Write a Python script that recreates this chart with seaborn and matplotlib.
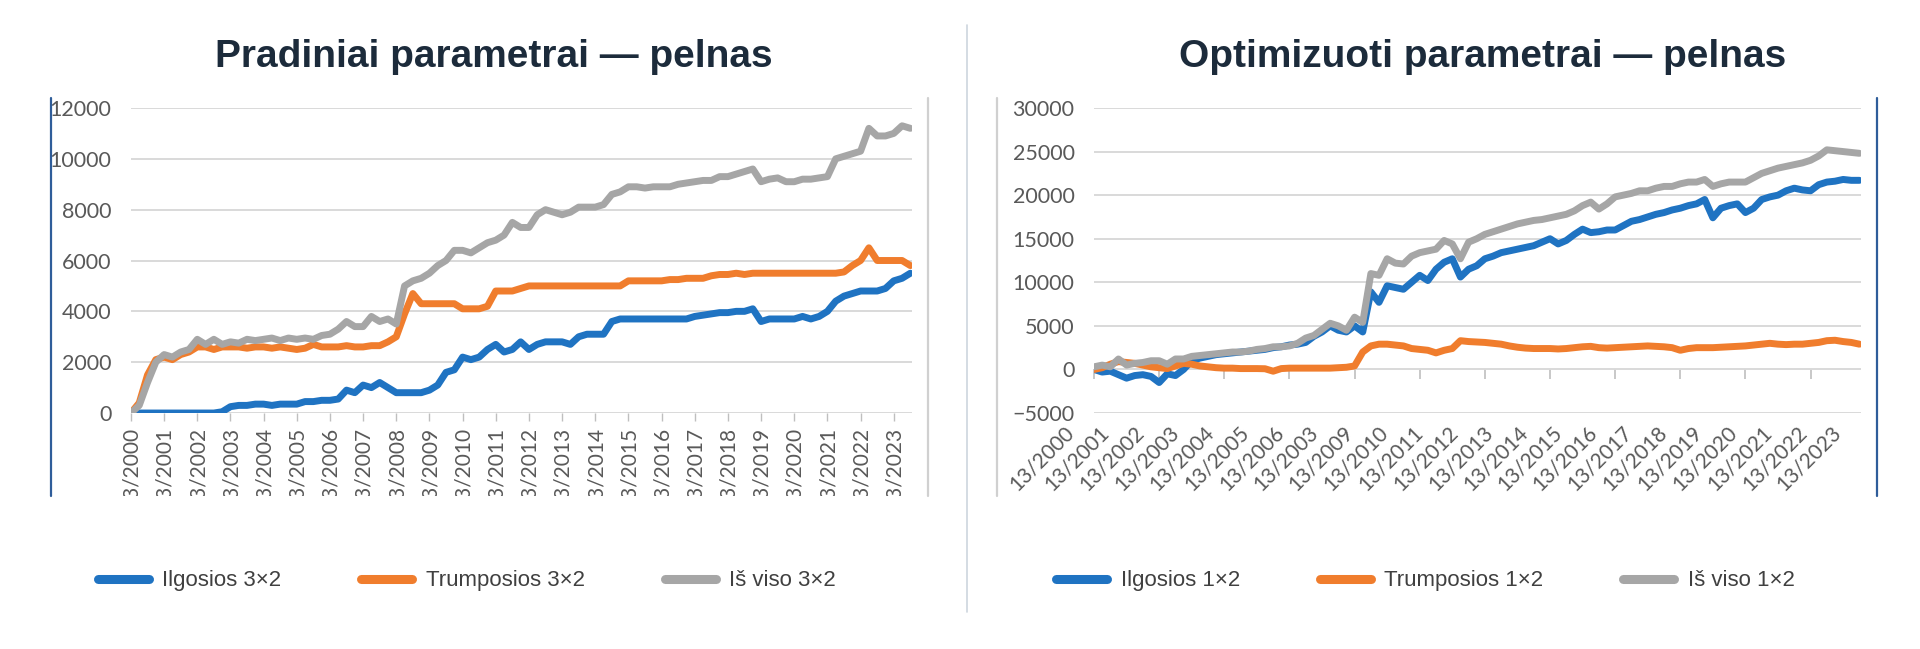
import numpy as np
import pandas as pd
import matplotlib
matplotlib.use("Agg")
import matplotlib.pyplot as plt
from matplotlib.lines import Line2D
from matplotlib.transforms import Bbox, TransformedBbox, ScaledTranslation
import seaborn as sns

# quarterly sampling points, 2000.00 .. 2023.50
QUARTERS = np.arange(2000.0, 2023.51, 0.25)

# ---- left panel: Pradiniai parametrai ----
LEFT_NAMES = ["Ilgosios 3×2", "Trumposios 3×2", "Iš viso 3×2"]
LEFT_ILGOSIOS = [0, 0, 0, 0, 0, 0, 0, 0, 0, 0, 0, 50, 250, 300, 300, 350,
                 350, 300, 350, 350, 350, 450, 450, 500, 500, 550, 900, 800,
                 1100, 1000, 1200, 1000, 800, 800, 800, 800, 900, 1100, 1600, 1700,
                 2200, 2100, 2200, 2500, 2700, 2400, 2500, 2800, 2500, 2700, 2800, 2800,
                 2800, 2700, 3000, 3100, 3100, 3100, 3600, 3700, 3700, 3700, 3700, 3700,
                 3700, 3700, 3700, 3700, 3800, 3850, 3900, 3950, 3950, 4000, 4000, 4100,
                 3600, 3700, 3700, 3700, 3700, 3800, 3700, 3800, 4000, 4400, 4600, 4700,
                 4800, 4800, 4800, 4900, 5200, 5300, 5500]
LEFT_TRUMPOSIOS = [0, 400, 1500, 2100, 2200, 2100, 2300, 2400, 2600, 2600, 2500, 2600,
                   2600, 2600, 2550, 2600, 2600, 2550, 2600, 2550, 2500, 2550, 2700, 2600,
                   2600, 2600, 2650, 2600, 2600, 2650, 2650, 2800, 3000, 3900, 4700, 4300,
                   4300, 4300, 4300, 4300, 4100, 4100, 4100, 4200, 4800, 4800, 4800, 4900,
                   5000, 5000, 5000, 5000, 5000, 5000, 5000, 5000, 5000, 5000, 5000, 5000,
                   5200, 5200, 5200, 5200, 5200, 5250, 5250, 5300, 5300, 5300, 5400, 5450,
                   5450, 5500, 5450, 5500, 5500, 5500, 5500, 5500, 5500, 5500, 5500, 5500,
                   5500, 5500, 5550, 5800, 6000, 6500, 6000, 6000, 6000, 6000, 5800]
LEFT_VISO = [0, 300, 1200, 2000, 2300, 2200, 2400, 2500, 2900, 2700, 2900, 2700,
             2800, 2750, 2900, 2850, 2900, 2950, 2850, 2950, 2900, 2950, 2900, 3050,
             3100, 3300, 3600, 3400, 3400, 3800, 3600, 3700, 3500, 5000, 5200, 5300,
             5500, 5800, 6000, 6400, 6400, 6300, 6500, 6700, 6800, 7000, 7500, 7300,
             7300, 7800, 8000, 7900, 7800, 7900, 8100, 8100, 8100, 8200, 8600, 8700,
             8900, 8900, 8850, 8900, 8900, 8900, 9000, 9050, 9100, 9150, 9150, 9300,
             9300, 9400, 9500, 9600, 9100, 9200, 9250, 9100, 9100, 9200, 9200, 9250,
             9300, 10000, 10100, 10200, 10300, 11200, 10900, 10900, 11000, 11300, 11200]

# ---- right panel: Optimizuoti parametrai ----
RIGHT_NAMES = ["Ilgosios 1×2", "Trumposios 1×2", "Iš viso 1×2"]
RIGHT_ILGOSIOS = [0, -300, -200, -600, -1000, -700, -600, -800, -1500, -500, -700, 0,
                  1000, 1300, 1500, 1700, 1800, 1900, 2000, 2100, 2200, 2300, 2500, 2600,
                  2800, 2900, 3100, 3800, 4300, 5000, 4500, 4300, 5000, 4300, 8900, 7700,
                  9600, 9400, 9200, 10000, 10800, 10200, 11500, 12300, 12700, 10600, 11500, 11900,
                  12700, 13000, 13400, 13600, 13800, 14000, 14200, 14600, 15000, 14400, 14800, 15500,
                  16100, 15700, 15800, 16000, 16000, 16500, 17000, 17200, 17500, 17800, 18000, 18300,
                  18500, 18800, 19000, 19500, 17400, 18500, 18800, 19000, 18000, 18500, 19500, 19800,
                  20000, 20500, 20800, 20600, 20500, 21200, 21500, 21600, 21800, 21700, 21700]
RIGHT_TRUMPOSIOS = [0, 200, 600, 900, 800, 700, 500, 300, 200, 100, 400, 700,
                    600, 400, 300, 200, 150, 150, 100, 100, 100, 80, -200, 100,
                    150, 150, 150, 150, 150, 150, 200, 250, 400, 2000, 2700, 2900,
                    2900, 2800, 2700, 2400, 2300, 2200, 1900, 2200, 2400, 3300, 3200, 3150,
                    3100, 3000, 2900, 2700, 2550, 2450, 2400, 2400, 2400, 2350, 2400, 2500,
                    2600, 2650, 2500, 2450, 2500, 2550, 2600, 2650, 2700, 2650, 2600, 2500,
                    2200, 2400, 2500, 2500, 2500, 2550, 2600, 2650, 2700, 2800, 2900, 3000,
                    2900, 2850, 2900, 2900, 3000, 3100, 3300, 3350, 3200, 3100, 2900]
RIGHT_VISO = [300, 500, 300, 1200, 500, 700, 800, 1000, 1000, 600, 1200, 1200,
              1500, 1600, 1700, 1800, 1900, 2000, 2000, 2100, 2300, 2400, 2600, 2600,
              2700, 3000, 3600, 3900, 4600, 5300, 5000, 4500, 6000, 5400, 11000, 10800,
              12700, 12200, 12100, 13000, 13400, 13600, 13800, 14800, 14400, 12700, 14600, 15000,
              15500, 15800, 16100, 16400, 16700, 16900, 17100, 17200, 17400, 17600, 17800, 18200,
              18800, 19200, 18400, 19000, 19800, 20000, 20200, 20500, 20500, 20800, 21000, 21000,
              21300, 21500, 21500, 21800, 21000, 21300, 21500, 21500, 21500, 22000, 22500, 22800,
              23100, 23300, 23500, 23700, 24000, 24500, 25200, 25100, 25000, 24900, 24800]

LEFT_TICK_YEARS = list(range(2000, 2024))
LEFT_TICK_LABELS = [f"13/{y}" for y in LEFT_TICK_YEARS]
RIGHT_TICK_LABELS = ["13/2000", "13/2001", "13/2002", "13/2003", "13/2004", "13/2005",
                     "13/2006", "13/2003", "13/2009", "13/2010", "13/2011", "13/2012",
                     "13/2013", "13/2014", "13/2015", "13/2016", "13/2017", "13/2018",
                     "13/2019", "13/2020", "13/2021", "13/2022", "13/2023"]

COLORS = ["#1f73c2", "#f07d2d", "#a6a6a6"]
TITLE_COLOR = "#1c2b3b"
TICK_COLOR = "#595959"
GRID_COLOR = "#d9d9d9"


def long_frame(names, series):
    parts = []
    for name, vals in zip(names, series):
        parts.append(pd.DataFrame({"year": QUARTERS, "value": vals, "series": name}))
    return pd.concat(parts, ignore_index=True)


sns.set_theme(style="white")
plt.rcParams["font.family"] = ["Lato", "DejaVu Sans"]

fig = plt.figure(figsize=(19.2, 6.49), dpi=100)
ax_l = fig.add_axes([0.0682, 0.3636, 0.4068, 0.470])
ax_r = fig.add_axes([0.5698, 0.3636, 0.3995, 0.470])

left_df = long_frame(LEFT_NAMES, [LEFT_ILGOSIOS, LEFT_TRUMPOSIOS, LEFT_VISO])
right_df = long_frame(RIGHT_NAMES, [RIGHT_ILGOSIOS, RIGHT_TRUMPOSIOS, RIGHT_VISO])

# legend anchors (axes fraction) for each panel
legend_pos = {"left": (0.43, -0.55), "right": (0.432, -0.55)}

for key, ax, df, names in [("left", ax_l, left_df, LEFT_NAMES),
                           ("right", ax_r, right_df, RIGHT_NAMES)]:
    sns.lineplot(data=df, x="year", y="value", hue="series", hue_order=names,
                 palette=COLORS, linewidth=5, estimator=None, ax=ax)
    ax.set_xlim(2000, 2023.55)
    ax.set_xlabel("")
    ax.set_ylabel("")
    for s in ax.spines.values():
        s.set_visible(False)
    ax.grid(axis="y", color=GRID_COLOR, linewidth=1.4)
    ax.grid(axis="x", visible=False)
    ax.set_axisbelow(True)
    ax.tick_params(axis="y", length=0, pad=14, labelsize=15.5, labelcolor=TICK_COLOR)
    sns.move_legend(ax, "center", bbox_to_anchor=legend_pos[key], ncol=3, frameon=False,
                    title=None, fontsize=16, handlelength=2.3, handletextpad=0.6,
                    columnspacing=3.6)
    leg = ax.get_legend()
    for t in leg.get_texts():
        t.set_color("#404040")
        t.set_family(["Liberation Sans", "DejaVu Sans"])
    for h in leg.legend_handles:
        h.set_linewidth(6.5)

# left axes
ax_l.set_ylim(0, 12000)
ax_l.set_yticks(range(0, 12001, 2000))
ax_l.set_xticks(LEFT_TICK_YEARS, LEFT_TICK_LABELS)
ax_l.tick_params(axis="x", bottom=True, length=6, width=1, color="#bfbfbf", pad=4,
                 labelsize=15, labelcolor=TICK_COLOR, labelrotation=90)
clip = TransformedBbox(Bbox([[0, 0.236], [1, 1]]), fig.transFigure)
for lab in ax_l.get_xticklabels():
    lab.set_clip_on(True)
    lab.set_clip_box(clip)

# right axes
ax_r.set_ylim(-5000, 30000)
ax_r.set_yticks(range(-5000, 30001, 5000))
ax_r.set_xticks(np.linspace(2000, 2023.55, len(RIGHT_TICK_LABELS)), RIGHT_TICK_LABELS)
ax_r.tick_params(axis="x", length=0, pad=7, labelsize=15, labelcolor=TICK_COLOR)
shift = ScaledTranslation(-30 / 100, 0, fig.dpi_scale_trans)
for lab in ax_r.get_xticklabels():
    lab.set_rotation(45)
    lab.set_ha("right")
    lab.set_va("top")
    lab.set_rotation_mode("anchor")
    lab.set_transform(lab.get_transform() + shift)
# category tick marks sit on the zero line
sec = ax_r.secondary_xaxis(0, transform=ax_r.transData)
sec.set_xticks(range(2000, 2024, 2), [])
sec.tick_params(bottom=True, length=7, width=1.2, color="#bfbfbf")
sec.spines["bottom"].set_visible(False)

# panel frame lines
frame = [(0.0266, "#2f5d9a"), (0.4833, "#d0d0d0"), (0.5193, "#d0d0d0"), (0.9776, "#2f5d9a")]
for x, c in frame:
    fig.add_artist(Line2D([x, x], [0.236, 0.849], transform=fig.transFigure,
                          color=c, linewidth=1.6))
fig.add_artist(Line2D([0.5036, 0.5036], [0.057, 0.961], transform=fig.transFigure,
                      color="#cdd6de", linewidth=1.2))

# titles
fig.text(0.257, 0.912, "Pradiniai parametrai — pelnas", ha="center", va="center",
         fontsize=28, fontweight="bold", color=TITLE_COLOR,
         family=["Liberation Sans", "DejaVu Sans"])
fig.text(0.772, 0.912, "Optimizuoti parametrai — pelnas", ha="center", va="center",
         fontsize=28, fontweight="bold", color=TITLE_COLOR,
         family=["Liberation Sans", "DejaVu Sans"])

fig.savefig("out.png", dpi=100, facecolor="white")
